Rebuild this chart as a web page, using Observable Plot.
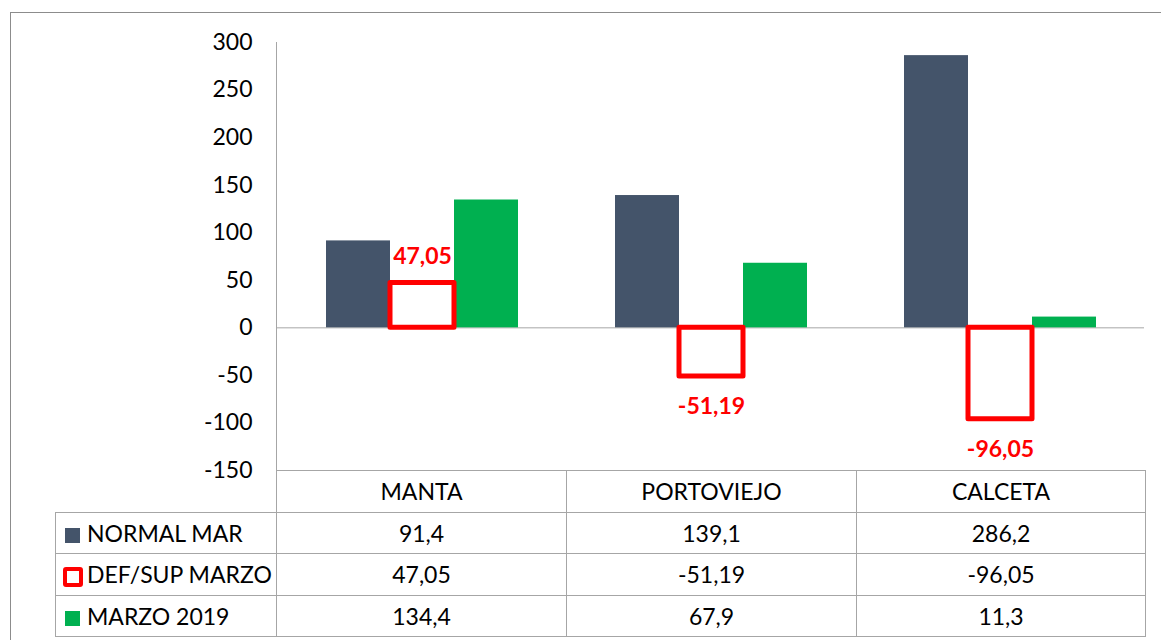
<!DOCTYPE html>
<html>
<head>
<meta charset="utf-8">
<script src="https://cdn.jsdelivr.net/npm/d3@7"></script>
<script src="https://cdn.jsdelivr.net/npm/@observablehq/plot@0.6"></script>
<style>
  body { margin: 0; background: #fff; font-family: Lato, "Noto Sans", sans-serif; }
  #wrap { position: relative; width: 1161px; height: 640px; overflow: hidden; background: #fff; }
  #frame { position: absolute; left: 10px; top: 12px; width: 1300px; height: 800px; border: 1px solid #8c8c8c; box-sizing: border-box; }
  #axisline { position: absolute; left: 276px; top: 42px; width: 1px; height: 428px; background: #a6a6a6; }
  #chart { position: absolute; left: 0; top: 0; }
  #tbl { position: absolute; left: 55px; top: 470px; border-collapse: collapse; table-layout: fixed; font-size: 23px; color: #000; }
  #tbl td { border: 1px solid #a6a6a6; padding: 0; text-align: center; white-space: nowrap; }
  #tbl tr { height: 41.5px; }
  #tbl td.corner { border-top: none; border-left: none; }
  #tbl td.lab { text-align: left; padding-left: 0; }
  .sw { display: inline-block; vertical-align: middle; box-sizing: border-box; }
</style>
</head>
<body>
<div id="wrap">
  <div id="frame"></div>
  <div id="chart"></div>
  <div id="axisline"></div>
</div>
<script>
const categories = ["MANTA", "PORTOVIEJO", "CALCETA"];
const seriesNames = ["NORMAL MAR", "DEF/SUP MARZO", "MARZO 2019"];
const normalMar = [91.4, 139.1, 286.2];
const defSupMarzo = [47.05, -51.19, -96.05];
const marzo2019 = [134.4, 67.9, 11.3];
const yTicks = [-150, -100, -50, 0, 50, 100, 150, 200, 250, 300];
const seriesColors = ["#44546A", "#FF0000", "#00B050"];

const seriesValues = [normalMar, defSupMarzo, marzo2019];
const rows = [];
categories.forEach((c, i) => {
  seriesNames.forEach((s, j) => rows.push({cat: c, series: s, value: seriesValues[j][i]}));
});
const fmt = v => String(v).replace(".", ",");
const bySeries = s => rows.filter(d => d.series === s);
const defRows = bySeries(seriesNames[1]);

const chart = Plot.plot({
  width: 1161,
  height: 472,
  marginTop: 42,
  marginBottom: 2,
  marginLeft: 276,
  marginRight: 16,
  style: {fontFamily: "Lato, sans-serif", fontSize: "23px", color: "#000", background: "transparent", overflow: "visible"},
  fx: {domain: categories, padding: 0, axis: null},
  x: {domain: seriesNames, paddingInner: 0, paddingOuter: 0.748, axis: null},
  y: {domain: [-150, 300], axis: null},
  marks: [
    Plot.axisY(yTicks, {anchor: "left", tickSize: 0, tickPadding: 25, tickFormat: d => String(d), label: null, fontSize: 23, fill: "#000"}),
    Plot.ruleY([0], {stroke: "#a6a6a6", strokeWidth: 1}),
    Plot.barY(bySeries(seriesNames[0]), {fx: "cat", x: "series", y: "value", fill: seriesColors[0]}),
    Plot.barY(bySeries(seriesNames[2]), {fx: "cat", x: "series", y: "value", fill: seriesColors[2]}),
    Plot.barY(defRows, {fx: "cat", x: "series", y: "value", fill: "#fff", stroke: seriesColors[1], strokeWidth: 5, strokeLinejoin: "round"}),
    Plot.text(defRows.filter(d => d.value > 0), {fx: "cat", x: "series", y: "value", text: d => fmt(d.value), fill: seriesColors[1], fontWeight: "bold", fontSize: 23, dy: -26}),
    Plot.text(defRows.filter(d => d.value < 0), {fx: "cat", x: "series", y: "value", text: d => fmt(d.value), fill: seriesColors[1], fontWeight: "bold", fontSize: 23, dy: 30})
  ]
});
document.getElementById("chart").appendChild(chart);

// data table below the chart
const tbl = document.createElement("table");
tbl.id = "tbl";
const colgroup = document.createElement("colgroup");
[221, 290, 290, 289].forEach(w => { const c = document.createElement("col"); c.style.width = w + "px"; colgroup.appendChild(c); });
tbl.appendChild(colgroup);
const head = document.createElement("tr");
const corner = document.createElement("td"); corner.className = "corner"; head.appendChild(corner);
categories.forEach(c => { const td = document.createElement("td"); td.textContent = c; head.appendChild(td); });
tbl.appendChild(head);
seriesNames.forEach((s, j) => {
  const tr = document.createElement("tr");
  const lab = document.createElement("td"); lab.className = "lab";
  const sw = document.createElement("span"); sw.className = "sw";
  if (j === 1) {
    Object.assign(sw.style, {width: "20px", height: "20px", border: "4px solid " + seriesColors[1], borderRadius: "3px", background: "#fff", marginLeft: "7px", marginRight: "4px"});
  } else {
    Object.assign(sw.style, {width: "15px", height: "15px", background: seriesColors[j], marginLeft: "9px", marginRight: "7px"});
  }
  lab.appendChild(sw);
  lab.appendChild(document.createTextNode(s));
  tr.appendChild(lab);
  seriesValues[j].forEach(v => { const td = document.createElement("td"); td.textContent = fmt(v); tr.appendChild(td); });
  tbl.appendChild(tr);
});
document.getElementById("wrap").appendChild(tbl);
</script>
</body>
</html>
